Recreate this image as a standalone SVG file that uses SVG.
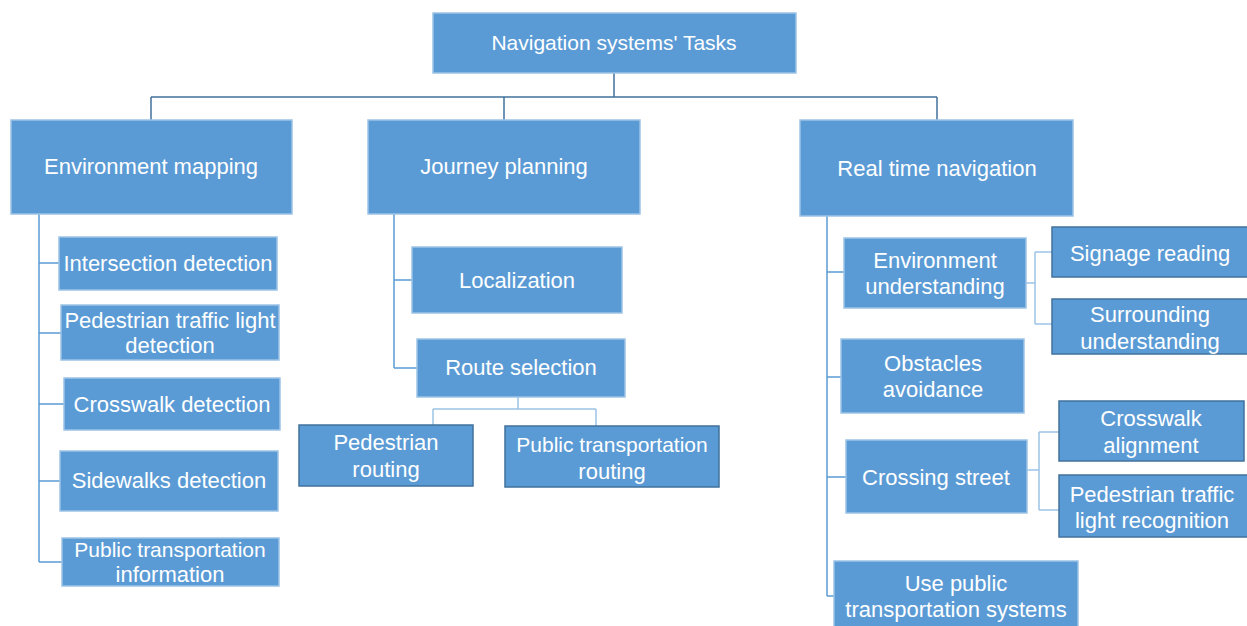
<svg xmlns="http://www.w3.org/2000/svg" width="1247" height="626" viewBox="0 0 1247 626">
<style>
.b{fill:#5B9BD5;stroke:#9DC3E6;stroke-width:1.5}
.d{fill:#5B9BD5;stroke:#41719C;stroke-width:1.5}
.t{fill:#ffffff;font-family:"Liberation Sans",Arial,sans-serif;font-size:22px;text-anchor:middle}
.s{font-size:21px}
.c1{fill:none;stroke:#41719C;stroke-width:1.5}
.c2{fill:none;stroke:#5B9BD5;stroke-width:1.5}
.c3{fill:none;stroke:#9DC3E6;stroke-width:1.5}
</style>
<rect width="1247" height="626" fill="#ffffff"/>
<g id="connectors">
<path class="c1" d="M614 73V97M151 97H937M151 97V120M504 97V120M937 97V120"/>
<path class="c2" d="M39 214V562M39 263H59M39 333H61M39 404H64M39 481H60M39 562H62"/>
<path class="c2" d="M394 214V368M394 280H412M394 368H417"/>
<path class="c3" d="M518 397V409M433 409H596M433 409V425M596 409V426"/>
<path class="c2" d="M827 216V596M827 272H844M827 377H841M827 477H846M827 596H834"/>
<path class="c3" d="M1026 283H1035M1035 252V324M1035 252H1052M1035 324H1052"/>
<path class="c3" d="M1027 470H1039M1039 432V510M1039 432H1059M1039 510H1059"/>
</g>
<g id="root"><rect class="b" x="433" y="13" width="363" height="60"/><text class="t s" x="614" y="50">Navigation systems' Tasks</text></g>
<g id="env-mapping"><rect class="b" x="11" y="120" width="281" height="94"/><text class="t" x="151" y="174">Environment mapping</text></g>
<g id="journey"><rect class="b" x="368" y="120" width="272" height="94"/><text class="t" x="504" y="174">Journey planning</text></g>
<g id="realtime"><rect class="b" x="800" y="120" width="273" height="96"/><text class="t" x="937" y="176">Real time navigation</text></g>
<g id="intersection"><rect class="b" x="59" y="237" width="218" height="53"/><text class="t" x="168" y="271">Intersection detection</text></g>
<g id="ped-light-det"><rect class="b" x="61" y="305" width="218" height="55"/><text class="t" x="170" y="328">Pedestrian traffic light</text><text class="t" x="170" y="353">detection</text></g>
<g id="crosswalk-det"><rect class="b" x="64" y="378" width="216" height="52"/><text class="t" x="172" y="412">Crosswalk detection</text></g>
<g id="sidewalks"><rect class="b" x="60" y="451" width="218" height="60"/><text class="t" x="169" y="488">Sidewalks detection</text></g>
<g id="pt-info"><rect class="b" x="62" y="538" width="217" height="48"/><text class="t s" x="170" y="557">Public transportation</text><text class="t" x="170" y="582">information</text></g>
<g id="localization"><rect class="b" x="412" y="247" width="210" height="66"/><text class="t" x="517" y="288">Localization</text></g>
<g id="route-sel"><rect class="b" x="417" y="339" width="208" height="58"/><text class="t" x="521" y="375">Route selection</text></g>
<g id="ped-routing"><rect class="d" x="299" y="425" width="174" height="61"/><text class="t" x="386" y="450">Pedestrian</text><text class="t" x="386" y="477">routing</text></g>
<g id="pt-routing"><rect class="d" x="505" y="426" width="214" height="61"/><text class="t s" x="612" y="452">Public transportation</text><text class="t" x="612" y="479">routing</text></g>
<g id="env-understanding"><rect class="b" x="844" y="238" width="182" height="70"/><text class="t" x="935" y="268">Environment</text><text class="t" x="935" y="294">understanding</text></g>
<g id="signage"><rect class="d" x="1052" y="227" width="197" height="50"/><text class="t" x="1150" y="261">Signage reading</text></g>
<g id="surrounding"><rect class="d" x="1052" y="299" width="197" height="55"/><text class="t" x="1150" y="322">Surrounding</text><text class="t" x="1150" y="349">understanding</text></g>
<g id="obstacles"><rect class="b" x="841" y="339" width="183" height="74"/><text class="t" x="933" y="371">Obstacles</text><text class="t" x="933" y="397">avoidance</text></g>
<g id="crossing"><rect class="b" x="846" y="440" width="181" height="73"/><text class="t" x="936" y="485">Crossing street</text></g>
<g id="crosswalk-align"><rect class="d" x="1059" y="401" width="185" height="60"/><text class="t" x="1151" y="426">Crosswalk</text><text class="t" x="1151" y="453">alignment</text></g>
<g id="ped-light-rec"><rect class="d" x="1059" y="475" width="189" height="62"/><text class="t" x="1152" y="502">Pedestrian traffic</text><text class="t" x="1152" y="528">light recognition</text></g>
<g id="use-pt"><rect class="b" x="834" y="561" width="244" height="70"/><text class="t" x="956" y="591">Use public</text><text class="t" x="956" y="617">transportation systems</text></g>
</svg>
